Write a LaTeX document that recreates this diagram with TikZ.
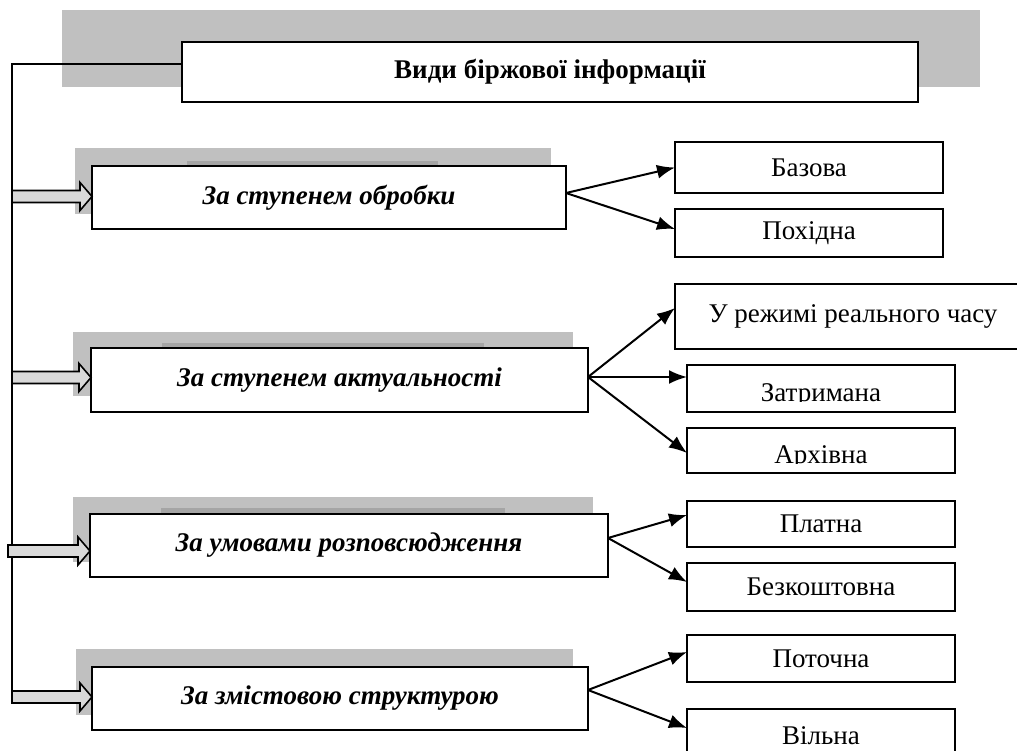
\documentclass[tikz,border=0pt]{standalone}
\usepackage{fontspec}
\setmainfont{Liberation Serif}
\usetikzlibrary{arrows.meta,calc}
\definecolor{shadegray}{RGB}{192,192,192}
\definecolor{shadedark}{RGB}{165,165,165}
\definecolor{arrfill}{RGB}{217,217,217}
\tikzset{
  box/.style={draw=black, line width=2pt, fill=white, inner sep=0pt, outer sep=0pt, anchor=north west},
  lbox/.style={box, font=\fontsize{27}{32}\selectfont\bfseries\itshape},
  rbox/.style={box, font=\fontsize{27}{32}\selectfont},
  rtext/.style={anchor=base, font=\fontsize{27}{32}\selectfont, inner sep=0pt},
  conn/.style={line width=2pt, -{Latex[length=18pt,width=14pt]}},
  blockarr/.style={draw=black, line width=1.6pt, fill=arrfill, line join=miter},
  trunk/.style={line width=1.6pt}
}
\newcommand\blockarrow[2]{%
  \path let \p1=(#1), \p2=(#2.west) in
    [blockarr] (\x1,\y1+6pt) -- (\x2-12pt,\y1+6pt) -- (\x2-12pt,\y1+14pt) -- (\x2,\y1)
    -- (\x2-12pt,\y1-14pt) -- (\x2-12pt,\y1-6pt) -- (\x1,\y1-6pt) -- cycle;}
\begin{document}
\begin{tikzpicture}[x=1pt,y=-1pt]
\useasboundingbox (0,0) rectangle (1017,751);
\clip (0,0) rectangle (1017,751);
% title
\fill[shadegray] (62,10) rectangle (980,87);
\node[box, minimum width=736pt, minimum height=60pt, font=\fontsize{27}{32}\selectfont\bfseries] (title) at (182,42) {Види біржової інформації};
% shadows of the left boxes
\fill[shadegray] (75,148) rectangle (551,214);
\fill[shadedark] (187,161) rectangle (438,170);
\fill[shadegray] (73,332) rectangle (573,396);
\fill[shadedark] (162,343) rectangle (484,352);
\fill[shadegray] (73,497) rectangle (593,562);
\fill[shadedark] (161,508) rectangle (505,518);
\fill[shadegray] (76,649) rectangle (573,715);
% left boxes
\node[lbox, minimum width=474pt, minimum height=63pt] (b1) at (92,166) {За ступенем обробки};
\node[lbox, minimum width=497pt, minimum height=64pt] (b2) at (91,348) {За ступенем актуальності};
\node[lbox, minimum width=518pt, minimum height=63pt] (b3) at (90,514) {За умовами розповсюдження};
\node[lbox, minimum width=496pt, minimum height=63pt] (b4) at (92,667) {За змістовою структурою};
% trunk
\coordinate (t0) at ($(title.west)+(0,8pt)$);
\coordinate (tb) at (12,703);
\draw[trunk] (t0) -| (tb);
\coordinate (a1) at (12,196.5);
\coordinate (a2) at (12,377.5);
\coordinate (a3) at (8,551);
\coordinate (a4) at (12,697);
\blockarrow{a1}{b1}
\blockarrow{a2}{b2}
\blockarrow{a3}{b3}
\blockarrow{a4}{b4}
% right boxes
\node[rbox, minimum width=268pt, minimum height=51pt] (baz) at (675,142) {Базова};
\node[rbox, minimum width=268pt, minimum height=48pt] (poh) at (675,209) {Похідна};
\node[rbox, minimum width=356pt, minimum height=65pt] (rt) at (675,284) {У режимі реального часу};
\node[rbox, minimum width=268pt, minimum height=47pt] (zat) at (687,365) {};
\node[rbox, minimum width=268pt, minimum height=45pt] (arh) at (687,428) {};
\node[rbox, minimum width=268pt, minimum height=46pt] (pla) at (687,501) {Платна};
\node[rbox, minimum width=268pt, minimum height=48pt] (bez) at (687,563) {Безкоштовна};
\node[rbox, minimum width=268pt, minimum height=47pt] (pot) at (687,635) {Поточна};
\node[rbox, minimum width=268pt, minimum height=61pt] (vil) at (687,709) {};
\begin{scope}
\clip (687,365) rectangle (955,401.5);
\node[rtext] (zatt) at (821,401) {Затримана};
\end{scope}
\begin{scope}
\clip (687,428) rectangle (955,463.5);
\node[rtext] (arht) at (821,463) {Архівна};
\end{scope}
\node[rtext] (vilt) at (821,744) {Вільна};
% connectors
\draw[conn] ([yshift=4.5pt]b1.east) -- (baz.west);
\draw[conn] ([yshift=4.5pt]b1.east) -- ([yshift=4pt]poh.west);
\draw[conn] ([yshift=3pt]b2.east) -- ([yshift=8.5pt]rt.west);
\draw[conn] ([yshift=3pt]b2.east) -- ([yshift=11.5pt]zat.west);
\draw[conn] ([yshift=3pt]b2.east) -- ([yshift=-2.5pt]arh.west);
\draw[conn] ([yshift=7.5pt]b3.east) -- ([yshift=9pt]pla.west);
\draw[conn] ([yshift=7.5pt]b3.east) -- ([yshift=5pt]bez.west);
\draw[conn] ([yshift=8.5pt]b4.east) -- ([yshift=6.5pt]pot.west);
\draw[conn] ([yshift=8.5pt]b4.east) -- ([yshift=11.5pt]vil.west);
\end{tikzpicture}
\end{document}
